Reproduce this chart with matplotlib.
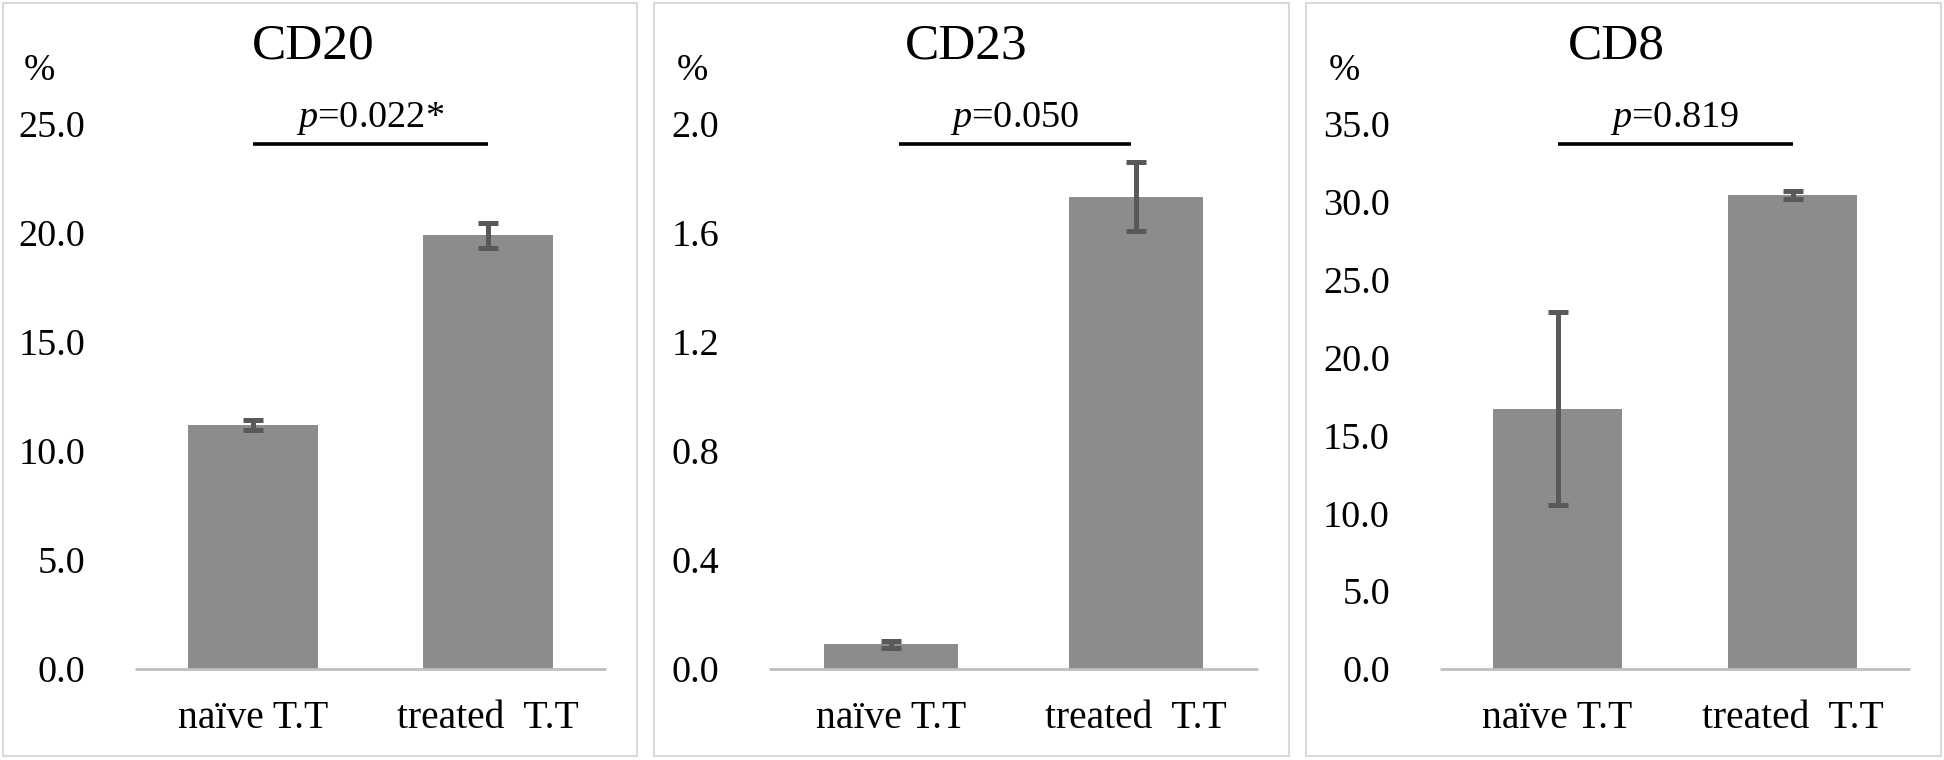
import matplotlib
matplotlib.use("Agg")
import matplotlib.pyplot as plt
from matplotlib.patches import Rectangle

plt.rcParams['font.family'] = ['Liberation Serif', 'DejaVu Serif']
plt.rcParams['mathtext.fontset'] = 'custom'
plt.rcParams['mathtext.rm'] = 'Liberation Serif'
plt.rcParams['mathtext.it'] = 'Liberation Serif:italic'

# ---- data ----
categories = ["naïve T.T", "treated  T.T"]
titles = ["CD20", "CD23", "CD8"]
cd20_mean = [11.2, 19.9]
cd20_err = [0.22, 0.57]
cd23_mean = [0.09, 1.733]
cd23_err = [0.012, 0.126]
cd8_mean = [16.72, 30.44]
cd8_err = [6.18, 0.25]
p_labels = ["0.022*", "0.050", "0.819"]
y_max = [25.0, 2.0, 35.0]
y_step = [5.0, 0.4, 5.0]

means = [cd20_mean, cd23_mean, cd8_mean]
errs = [cd20_err, cd23_err, cd8_err]

# ---- layout (pixels) ----
W, H = 1944, 760
fig = plt.figure(figsize=(W / 100, H / 100), dpi=100)

panels = [(3, 637), (654, 1289), (1306, 1941)]
axes_x = [(135, 606), (769, 1258), (1440, 1910)]
ax_top, ax_bot = 124, 669
title_x = [313, 966, 1616]
pct_x = [39, 692, 1344]
line_span = [(0.0, 1.0), (0.03, 0.98), (0.0, 1.0)]

def fx(px):
    return px / W

def fy(py):
    return 1 - py / H

for (l, r) in panels:
    fig.patches.append(Rectangle((fx(l), fy(756)), fx(r) - fx(l), fy(3) - fy(756),
                                 transform=fig.transFigure, fill=False,
                                 edgecolor='#d9d9d9', lw=1.5))

for i in range(3):
    xl, xr = axes_x[i]
    ax = fig.add_axes([fx(xl), fy(ax_bot), fx(xr) - fx(xl), fy(ax_top) - fy(ax_bot)])
    xs = list(range(len(categories)))
    ax.bar(xs, means[i], width=0.55, color='#8c8c8c', zorder=2)
    ax.errorbar(xs, means[i], yerr=errs[i], fmt='none', ecolor='#595959',
                elinewidth=3.6, capsize=7.5, capthick=3.6, zorder=3)
    ax.set_xlim(-0.5, 1.5)
    ax.set_ylim(0, y_max[i])
    n = int(round(y_max[i] / y_step[i]))
    ticks = [k * y_step[i] for k in range(n + 1)]
    ax.set_yticks(ticks)
    ax.set_yticklabels([f"{t:.1f}" for t in ticks])
    ax.set_xticks(xs)
    ax.set_xticklabels(categories)
    ax.tick_params(axis='y', length=0, pad=36, labelsize=27.5)
    ax.tick_params(axis='x', length=0, pad=22, labelsize=28.5)
    for s in ['top', 'right', 'left']:
        ax.spines[s].set_visible(False)
    ax.spines['bottom'].set_color('#bfbfbf')
    ax.spines['bottom'].set_linewidth(2)
    ax.spines['bottom'].set_capstyle('butt')

    # significance line and p label
    per_px = y_max[i] / (ax_bot - ax_top)
    line_y = (ax_bot - 144) * per_px
    text_y = (ax_bot - 127) * per_px
    a, b = line_span[i]
    ax.plot([a, b], [line_y, line_y], color='black', lw=2.6, clip_on=False,
            solid_capstyle='butt', zorder=4)
    ax.text((a + b) / 2, text_y, r"$\mathit{p}$=" + p_labels[i], ha='center',
            va='baseline', fontsize=27.5, clip_on=False)

    fig.text(fx(title_x[i]), fy(46), titles[i], ha='center', va='center', fontsize=37)
    fig.text(fx(pct_x[i]), fy(71), "%", ha='center', va='center', fontsize=27)

fig.savefig("out.png", dpi=100, facecolor='white')
